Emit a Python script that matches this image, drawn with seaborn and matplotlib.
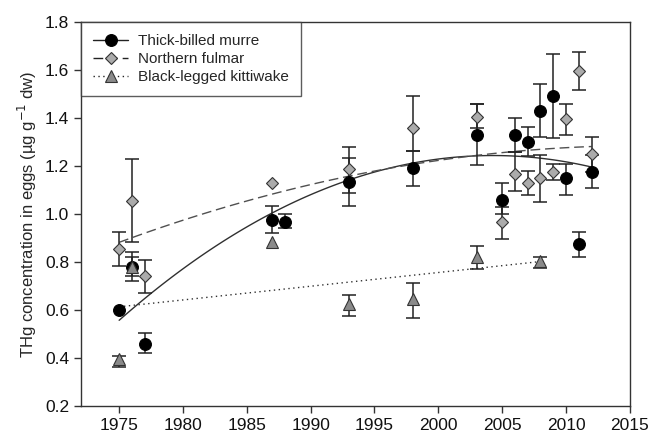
import numpy as np
import pandas as pd
import matplotlib
matplotlib.use("Agg")
import matplotlib.pyplot as plt
from matplotlib.lines import Line2D
import seaborn as sns

# Thick-billed murre (mean, lower and upper error bar ends)
murre_years = [1975, 1976, 1977, 1987, 1988, 1993, 1998, 2003, 2005, 2006, 2007, 2008, 2009, 2010, 2011, 2012]
murre_thg = [0.60, 0.78, 0.46, 0.975, 0.965, 1.135, 1.19, 1.33, 1.06, 1.33, 1.30, 1.43, 1.49, 1.15, 0.875, 1.175]
murre_lo = [np.nan, 0.72, 0.42, 0.92, 0.94, 1.035, 1.118, 1.204, 1.00, 1.26, 1.24, 1.32, 1.315, 1.08, 0.82, 1.107]
murre_hi = [np.nan, 0.84, 0.505, 1.033, 1.00, 1.232, 1.264, 1.457, 1.128, 1.40, 1.364, 1.54, 1.665, 1.21, 0.925, 1.245]

# Northern fulmar
fulmar_years = [1975, 1976, 1977, 1987, 1993, 1998, 2003, 2005, 2006, 2007, 2008, 2009, 2010, 2011, 2012]
fulmar_thg = [0.855, 1.055, 0.74, 1.13, 1.186, 1.36, 1.405, 0.965, 1.168, 1.13, 1.15, 1.175, 1.395, 1.595, 1.25]
fulmar_lo = [0.785, 0.885, 0.67, np.nan, 1.089, 1.264, 1.357, 0.897, 1.097, 1.08, 1.05, 1.142, 1.33, 1.515, 1.176]
fulmar_hi = [0.924, 1.228, 0.808, np.nan, 1.28, 1.49, 1.457, 1.03, 1.26, 1.18, 1.246, 1.207, 1.458, 1.676, 1.322]

# Black-legged kittiwake
kitti_years = [1975, 1976, 1987, 1993, 1998, 2003, 2008]
kitti_thg = [0.396, 0.78, 0.882, 0.624, 0.645, 0.822, 0.804]
kitti_lo = [0.364, 0.74, np.nan, 0.574, 0.565, 0.77, 0.774]
kitti_hi = [0.41, 0.82, np.nan, 0.662, 0.711, 0.867, 0.82]

x_ticks = [1975, 1980, 1985, 1990, 1995, 2000, 2005, 2010, 2015]
y_ticks = [0.2, 0.4, 0.6, 0.8, 1.0, 1.2, 1.4, 1.6, 1.8]

sns.set_style("ticks")
plt.rcParams['font.family'] = ['Liberation Sans', 'DejaVu Sans']

fig = plt.figure(figsize=(6.52, 4.4), dpi=100)
ax = fig.add_axes([0.124, 0.077, 0.842, 0.873])

species = [
    ("Thick-billed murre", murre_years, murre_thg, murre_lo, murre_hi, "o", "black", 8.5, "-", 2),
    ("Northern fulmar", fulmar_years, fulmar_thg, fulmar_lo, fulmar_hi, "D", "#ababab", 6.5, (0, (7, 3.5)), 1),
    ("Black-legged kittiwake", kitti_years, kitti_thg, kitti_lo, kitti_hi, "^", "#8a8a8a", 8, (0, (1, 2.5)), 3),
]

handles = []
for name, yrs, vals, lo, hi, mk, fc, ms, ls, order in species:
    df = pd.DataFrame({"year": yrs, "thg": vals, "lo": lo, "hi": hi})
    # fitted trend (quadratic for murre/fulmar, linear for kittiwake)
    deg = 1 if mk == "^" else 2
    sns.regplot(data=df, x="year", y="thg", order=deg, scatter=False, ci=None, ax=ax,
                line_kws=dict(color="#303030" if mk != "D" else "#505050", lw=1.0, linestyle=ls, zorder=1))
    e = df.dropna()
    ax.errorbar(e["year"], e["thg"], yerr=[e["thg"] - e["lo"], e["hi"] - e["thg"]],
                fmt="none", ecolor="#222222", elinewidth=1.1, capsize=5, capthick=1.1, zorder=order + 1)
    ec = "black" if mk == "o" else "#333333"
    ax.plot(df["year"], df["thg"], linestyle="none", marker=mk, markersize=ms,
            markerfacecolor=fc, markeredgecolor=ec, markeredgewidth=0.8, zorder=order + 5)
    handles.append(Line2D([], [], color="#222222", lw=1.0, linestyle=ls, marker=mk, markersize=ms,
                          markerfacecolor=fc, markeredgecolor=ec, markeredgewidth=0.8, label=name))

ax.set_xlim(1972, 2015)
ax.set_ylim(0.2, 1.8)
ax.set_xticks(x_ticks)
ax.set_yticks(y_ticks)
ax.set_yticklabels([f"{v:.1f}" for v in y_ticks])
ax.set_xlabel("")
ax.set_ylabel("THg concentration in eggs (µg g$^{-1}$ dw)", fontsize=12)
ax.tick_params(labelsize=12.5, length=5, width=1, color="#333333", labelcolor="#111111")
for s in ax.spines.values():
    s.set_color("#333333")
    s.set_linewidth(1.0)

leg = ax.legend(handles=handles, loc="upper left", bbox_to_anchor=(0, 1), borderaxespad=0,
                fontsize=11, frameon=True, fancybox=False, handlelength=2.3,
                handletextpad=0.65, labelspacing=0.25, borderpad=0.8)
leg.get_frame().set_edgecolor("#333333")
leg.get_frame().set_linewidth(1.0)

fig.savefig("out.png", dpi=100)
